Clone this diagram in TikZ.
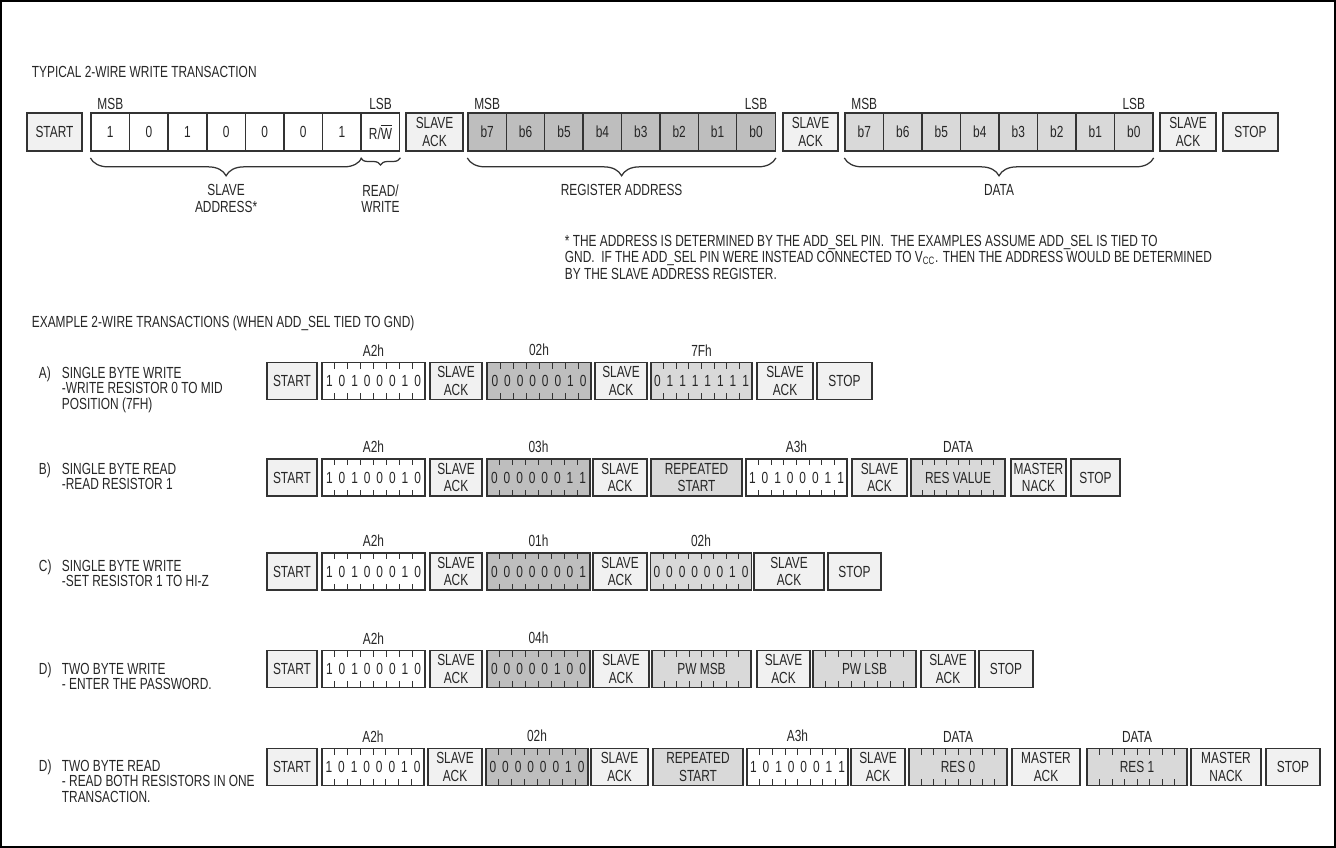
\documentclass[tikz,border=0pt]{standalone}
\usepackage{fontspec}
\setmainfont[FakeStretch=0.74]{Liberation Sans}
\usetikzlibrary{decorations.pathreplacing,calc}

\definecolor{boxline}{HTML}{333333}
\definecolor{ctlfill}{HTML}{F1F1F1}
\definecolor{regfill}{HTML}{BEBEBE}
\definecolor{datfill}{HTML}{D9D9D9}

% one pixel of the drawing
\newlength\pxu
\setlength\pxu{0.56pt}
% eight bits, one per cell
\newcommand\bitsloop[1]{\ifx#1\relax\else\makebox[12.6\pxu]{#1}\expandafter\bitsloop\fi}
\newcommand\bits[1]{\bitsloop#1\relax}

\begin{document}
\begin{tikzpicture}[x=0.56pt, y=-0.56pt, font=\fontsize{9}{8.7}\selectfont, text=black!85,
    lbl/.style={inner sep=2pt, align=center},
    pbox/.style={draw=boxline, line width=0.75pt, inner sep=0pt, align=center,
                 minimum height=37*0.56pt, font=\fontsize{9}{10}\selectfont},
    cell/.style={pbox, minimum width=38.5*0.56pt, minimum height=38*0.56pt},
    bytebox/.style={pbox, path picture={
        \foreach \k in {1,...,7}{
          \draw[boxline, line width=0.45pt]
            ($(path picture bounding box.north west)!\k/8!(path picture bounding box.north east)$) -- ++(0pt,-3.5pt)
            ($(path picture bounding box.south west)!\k/8!(path picture bounding box.south east)$) -- ++(0pt,3.5pt);
        }}},
    brc/.style={decorate, decoration={brace, mirror, amplitude=10pt}, draw=boxline, line width=0.7pt}]

    \useasboundingbox (0,0) rectangle (1336,848);
    \draw[line width=1.2pt] (1,1) rectangle (1335,847);

    % --- typical write transaction ---
    \node[lbl, anchor=west] (title1) at (28,72) {TYPICAL 2-WIRE WRITE TRANSACTION};

    \node[pbox, fill=ctlfill, minimum width=55*0.56pt, minimum height=38*0.56pt] (start) at (54.5,132) {START};
    \foreach \b [count=\i] in {1,0,1,0,0,0,1,{R/$\overline{\mbox{W}}$}}
        \node[cell, fill=white] (a\i) at ({91+(\i-0.5)*38.6},132) {\b};
    \node[pbox, fill=ctlfill, minimum width=57*0.56pt, minimum height=38*0.56pt] (ack1) at (434.5,132) {SLAVE\\ACK};
    \foreach \b [count=\i] in {7,6,5,4,3,2,1,0}
        \node[cell, fill=regfill] (r\i) at ({468+(\i-0.5)*38.4},132) {b\b};
    \node[pbox, fill=ctlfill, minimum width=55*0.56pt, minimum height=38*0.56pt] (ack2) at (810.5,132) {SLAVE\\ACK};
    \foreach \b [count=\i] in {7,6,5,4,3,2,1,0}
        \node[cell, fill=datfill] (d\i) at ({845+(\i-0.5)*38.5},132) {b\b};
    \node[pbox, fill=ctlfill, minimum width=56*0.56pt, minimum height=38*0.56pt] (ack3) at (1188,132) {SLAVE\\ACK};
    \node[pbox, fill=ctlfill, minimum width=55*0.56pt, minimum height=38*0.56pt] (stop) at (1250.5,132) {STOP};

    \foreach \n in {a1,r1,d1}
        \node[lbl, above=-0.5pt] (msb\n) at (\n.north) {MSB};
    \foreach \n in {a8,r8,d8}
        \node[lbl, above=-0.5pt] (lsb\n) at (\n.north) {LSB};

    % braces
    \draw[brc] ([yshift=-3.5pt]a1.south west) -- ([yshift=-3.5pt]a7.south east)
        node[midway, below=12.5pt, lbl, font=\fontsize{9}{9.4}\selectfont] (saddr) {SLAVE\\ADDRESS*};
    \draw[brc, decoration={amplitude=4pt}] ([yshift=-3.5pt]a8.south west) -- ([yshift=-3.5pt]a8.south east)
        node[midway, below=12.5pt, lbl, font=\fontsize{9}{9.4}\selectfont] (rwlbl) {READ/\\WRITE};
    \draw[brc] ([yshift=-3.5pt]r1.south west) -- ([yshift=-3.5pt]r8.south east)
        node[midway, below=12.5pt, lbl] (regaddr) {REGISTER ADDRESS};
    \draw[brc] ([yshift=-3.5pt]d1.south west) -- ([yshift=-3.5pt]d8.south east)
        node[midway, below=12.5pt, lbl] (datalbl) {DATA};

    \node[lbl, anchor=north west, align=left, font=\fontsize{9}{9.2}\selectfont] (note) at (561,231)
        {* THE ADDRESS IS DETERMINED BY THE ADD\_SEL PIN.\ \ THE EXAMPLES ASSUME ADD\_SEL IS TIED TO\\
         GND.\ \ IF THE ADD\_SEL PIN WERE INSTEAD CONNECTED TO V\textsubscript{CC}. THEN THE ADDRESS WOULD BE DETERMINED\\
         BY THE SLAVE ADDRESS REGISTER.};

    % --- example transactions ---
    \node[lbl, anchor=west] (title2) at (28,323) {EXAMPLE 2-WIRE TRANSACTIONS (WHEN ADD\_SEL TIED TO GND)};

    % row labels
    \node[lbl, anchor=north west] (la) at (35,363) {A)};
    \node[lbl, anchor=north west, align=left] (ta) at (58,363) {SINGLE BYTE WRITE\\-WRITE RESISTOR 0 TO MID\\POSITION (7FH)};
    \node[lbl, anchor=north west] (lb) at (35,459) {B)};
    \node[lbl, anchor=north west, align=left] (tb) at (58,459) {SINGLE BYTE READ\\-READ RESISTOR 1};
    \node[lbl, anchor=north west] (lc) at (35,556) {C)};
    \node[lbl, anchor=north west, align=left] (tc) at (58,556) {SINGLE BYTE WRITE\\-SET RESISTOR 1 TO HI-Z};
    \node[lbl, anchor=north west] (ld) at (35,659) {D)};
    \node[lbl, anchor=north west, align=left] (td) at (58,659) {TWO BYTE WRITE\\- ENTER THE PASSWORD.};
    \node[lbl, anchor=north west] (le) at (35,756) {D)};
    \node[lbl, anchor=north west, align=left] (te) at (58,756) {TWO BYTE READ\\- READ BOTH RESISTORS IN ONE\\TRANSACTION.};

    % row A
    \foreach \n/\a/\b/\t in {ra1/267/317/START, ra3/430/482/SLAVE\\ACK, ra5/595/647/SLAVE\\ACK,
                            ra7/757/813/SLAVE\\ACK, ra8/817/872/STOP}
        \node[pbox, fill=ctlfill, minimum width={(\b-\a)*0.56pt}] (\n) at ({(\a+\b)/2},381) {\t};
    \foreach \n/\a/\b/\f/\t in {ra2/322/425/white/\bits{10100010}, ra4/487/591/regfill/\bits{00000010},
                               ra6/651/752/datfill/\bits{01111111}}
        \node[bytebox, fill=\f, minimum width={(\b-\a)*0.56pt}] (\n) at ({(\a+\b)/2},381) {\t};

    % row B
    \foreach \n/\a/\b/\f/\t in {rb1/267/317/ctlfill/START, rb3/430/482/ctlfill/SLAVE\\ACK,
                               rb5/593/647/ctlfill/SLAVE\\ACK, rb6/651/742/datfill/REPEATED\\START,
                               rb8/852/907/ctlfill/SLAVE\\ACK, rb10/1011/1066/ctlfill/MASTER\\NACK,
                               rb11/1071/1120/ctlfill/STOP}
        \node[pbox, fill=\f, minimum width={(\b-\a)*0.56pt}] (\n) at ({(\a+\b)/2},477.5) {\t};
    \foreach \n/\a/\b/\f/\t in {rb2/322/425/white/\bits{10100010}, rb4/487/590/regfill/\bits{00000011},
                               rb7/746/847/white/\bits{10100011}, rb9/911/1005/datfill/RES VALUE}
        \node[bytebox, fill=\f, minimum width={(\b-\a)*0.56pt}] (\n) at ({(\a+\b)/2},477.5) {\t};

    % row C
    \foreach \n/\a/\b/\t in {rc1/267/317/START, rc3/430/482/SLAVE\\ACK, rc5/593/647/SLAVE\\ACK,
                            rc7/754/824/SLAVE\\ACK, rc8/828/881/STOP}
        \node[pbox, fill=ctlfill, minimum width={(\b-\a)*0.56pt}] (\n) at ({(\a+\b)/2},571.5) {\t};
    \foreach \n/\a/\b/\f/\t in {rc2/322/425/white/\bits{10100010}, rc4/487/590/regfill/\bits{00000001},
                               rc6/651/751/datfill/\bits{00000010}}
        \node[bytebox, fill=\f, minimum width={(\b-\a)*0.56pt}] (\n) at ({(\a+\b)/2},571.5) {\t};

    % row D
    \foreach \n/\a/\b/\t in {rd1/267/317/START, rd3/430/482/SLAVE\\ACK, rd5/593/649/SLAVE\\ACK,
                            rd7/757/810/SLAVE\\ACK, rd9/921/975/SLAVE\\ACK, rd10/979/1033/STOP}
        \node[pbox, fill=ctlfill, minimum width={(\b-\a)*0.56pt}] (\n) at ({(\a+\b)/2},669) {\t};
    \foreach \n/\a/\b/\f/\t in {rd2/322/425/white/\bits{10100010}, rd4/487/590/regfill/\bits{00000100},
                               rd6/652/751/datfill/PW MSB, rd8/813/916/datfill/PW LSB}
        \node[bytebox, fill=\f, minimum width={(\b-\a)*0.56pt}] (\n) at ({(\a+\b)/2},669) {\t};

    % row E
    \foreach \n/\a/\b/\f/\t in {re1/267/317/ctlfill/START, re3/428/482/ctlfill/SLAVE\\ACK,
                               re5/591/648/ctlfill/SLAVE\\ACK, re6/653/743/datfill/REPEATED\\START,
                               re8/851/905/ctlfill/SLAVE\\ACK, re10/1012/1080/ctlfill/MASTER\\ACK,
                               re12/1191/1261/ctlfill/MASTER\\NACK, re13/1266/1320/ctlfill/STOP}
        \node[pbox, fill=\f, minimum width={(\b-\a)*0.56pt}] (\n) at ({(\a+\b)/2},767) {\t};
    \foreach \n/\a/\b/\f/\t in {re2/322/424/white/\bits{10100010}, re4/486/588/regfill/\bits{00000010},
                               re7/748/847/white/\bits{10100011}, re9/909/1007/datfill/RES 0,
                               re11/1087/1187/datfill/RES 1}
        \node[bytebox, fill=\f, minimum width={(\b-\a)*0.56pt}] (\n) at ({(\a+\b)/2},767) {\t};

    % byte values above the boxes
    \foreach \n/\h in {ra2/A2h, ra4/02h, ra6/7Fh, rb2/A2h, rb4/03h, rb7/A3h, rb9/DATA,
                       rc2/A2h, rc4/01h, rc6/02h, rd2/A2h, rd4/04h,
                       re2/A2h, re4/02h, re7/A3h, re9/DATA, re11/DATA}
        \node[lbl, above=1pt] (h\n) at (\n.north) {\h};

\end{tikzpicture}
\end{document}
